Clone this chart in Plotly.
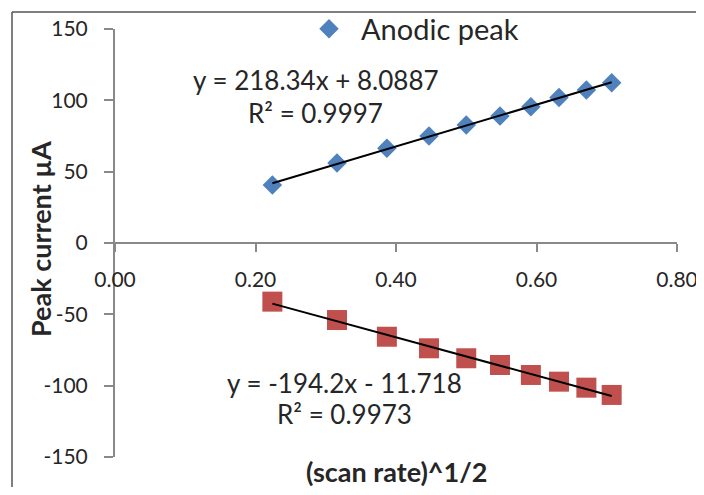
import numpy as np
import plotly.graph_objects as go

# data
sqrt_scan_rate = [0.224, 0.316, 0.387, 0.447, 0.500, 0.548, 0.592, 0.632, 0.671, 0.707]
anodic_peak = [40.7, 56.1, 66.4, 75.0, 82.7, 89.0, 95.5, 101.9, 107.2, 112.4]
cathodic_peak = [-41.1, -54.0, -65.7, -73.8, -80.8, -85.5, -92.5, -97.2, -101.4, -106.5]

x_ticks = [0.0, 0.2, 0.4, 0.6, 0.8]
x_tick_labels = ["0.00", "0.20", "0.40", "0.60", "0.80"]
y_ticks = [-150, -100, -50, 0, 50, 100, 150]
y_tick_labels = ["-150", "-100", "-50", "0", "50", "100", "150"]

eq_anodic = ["y = 218.34x + 8.0887", "R² = 0.9997"]
eq_cathodic = ["y = -194.2x - 11.718", "R² = 0.9973"]

FONT = "Lato, Carlito, Calibri, 'Open Sans', sans-serif"
AXIS_COLOR = "#898989"
TEXT_COLOR = "#262626"

x = np.array(sqrt_scan_rate)
xa = np.array([x[0], x[-1]])
pa = np.polyfit(x, np.array(anodic_peak), 1)
pc = np.polyfit(x, np.array(cathodic_peak), 1)

fig = go.Figure()
fig.add_trace(go.Scatter(
    x=sqrt_scan_rate, y=anodic_peak, mode="markers", name="Anodic peak",
    marker=dict(symbol="diamond", size=15, color="#4F81BD"), showlegend=True))
fig.add_trace(go.Scatter(
    x=sqrt_scan_rate, y=cathodic_peak, mode="markers", name="Cathodic peak",
    marker=dict(symbol="square", size=20, color="#C0504D"), showlegend=False))
fig.add_trace(go.Scatter(
    x=xa, y=np.polyval(pa, xa), mode="lines", line=dict(color="black", width=2),
    showlegend=False, hoverinfo="skip"))
fig.add_trace(go.Scatter(
    x=xa, y=np.polyval(pc, xa), mode="lines", line=dict(color="black", width=2),
    showlegend=False, hoverinfo="skip"))

# the page body has an 8px margin, so the figure sits at (8, 8) in the window;
# size it so the page does not overflow the 704x495 window
OFF = 8
W, H = 704 - OFF, 495 - 2 * OFF
PL, PR, PT, PB = 115, 677, 29, 457          # plot area in window pixels
L, T = PL - OFF, PT - OFF
R, B = W - (PR - OFF), H - (PB - OFF)
pw, ph = W - L - R, H - T - B


def px2paper_x(px):
    return (px - OFF - L) / pw


def px2paper_y(py):
    return (H - B - (py - OFF)) / ph


EQ = dict(size=26, color=TEXT_COLOR, family=FONT)
annotations = [
    dict(x=0.286, y=114.3, xref="x", yref="y", text=eq_anodic[0], showarrow=False, font=EQ,
         xanchor="center", yanchor="middle"),
    dict(x=0.286, y=90.8, xref="x", yref="y", text=eq_anodic[1], showarrow=False, font=EQ,
         xanchor="center", yanchor="middle"),
    dict(x=0.326, y=-98.1, xref="x", yref="y", text=eq_cathodic[0], showarrow=False, font=EQ,
         xanchor="center", yanchor="middle"),
    dict(x=0.326, y=-119.8, xref="x", yref="y", text=eq_cathodic[1], showarrow=False, font=EQ,
         xanchor="center", yanchor="middle"),
    dict(x=px2paper_x(40), y=px2paper_y(239), xref="paper", yref="paper",
         text="<b>Peak current µA</b>", textangle=-90, showarrow=False,
         xanchor="center", yanchor="middle",
         font=dict(size=27, color=TEXT_COLOR, family=FONT)),
    dict(x=px2paper_x(396), y=px2paper_y(471), xref="paper", yref="paper",
         text="<b>(scan rate)^1/2</b>", showarrow=False,
         xanchor="center", yanchor="middle",
         font=dict(size=27, color=TEXT_COLOR, family=FONT)),
]

shapes = [
    dict(type="line", xref="paper", yref="paper",
         x0=px2paper_x(12), x1=px2paper_x(12), y0=px2paper_y(12), y1=px2paper_y(520),
         line=dict(color="#555555", width=1.5)),
    dict(type="line", xref="paper", yref="paper",
         x0=px2paper_x(12), x1=px2paper_x(730), y0=px2paper_y(12), y1=px2paper_y(12),
         line=dict(color="#555555", width=1.5)),
]

fig.update_layout(
    template="none",
    width=W, height=H,
    margin=dict(l=L, r=R, t=T, b=B, pad=0, autoexpand=False),
    paper_bgcolor="white", plot_bgcolor="white",
    font=dict(family=FONT, color=TEXT_COLOR, size=21),
    showlegend=True,
    legend=dict(x=px2paper_x(297), y=px2paper_y(29), xanchor="left", yanchor="middle",
                font=dict(size=29, color=TEXT_COLOR, family=FONT),
                bgcolor="rgba(0,0,0,0)", itemsizing="trace", itemwidth=54,
                borderwidth=0),
    xaxis=dict(range=[0, 0.8], tickvals=x_ticks, ticktext=x_tick_labels,
               anchor="free", position=0.5, showline=True, linecolor=AXIS_COLOR,
               linewidth=2, ticks="outside", ticklen=8, tickwidth=2,
               tickcolor=AXIS_COLOR, showgrid=False, zeroline=False, automargin=False,
               ticklabelstandoff=10, tickfont=dict(size=21, color=TEXT_COLOR)),
    yaxis=dict(range=[-150, 150], tickvals=y_ticks, ticktext=y_tick_labels, showline=True,
               linecolor=AXIS_COLOR, linewidth=2, ticks="outside", ticklen=9,
               tickwidth=2, tickcolor=AXIS_COLOR, showgrid=False, zeroline=False,
               automargin=False,
               ticklabelstandoff=12, tickfont=dict(size=21, color=TEXT_COLOR)),
    annotations=annotations,
    shapes=shapes,
)

fig.write_html("out.html")
